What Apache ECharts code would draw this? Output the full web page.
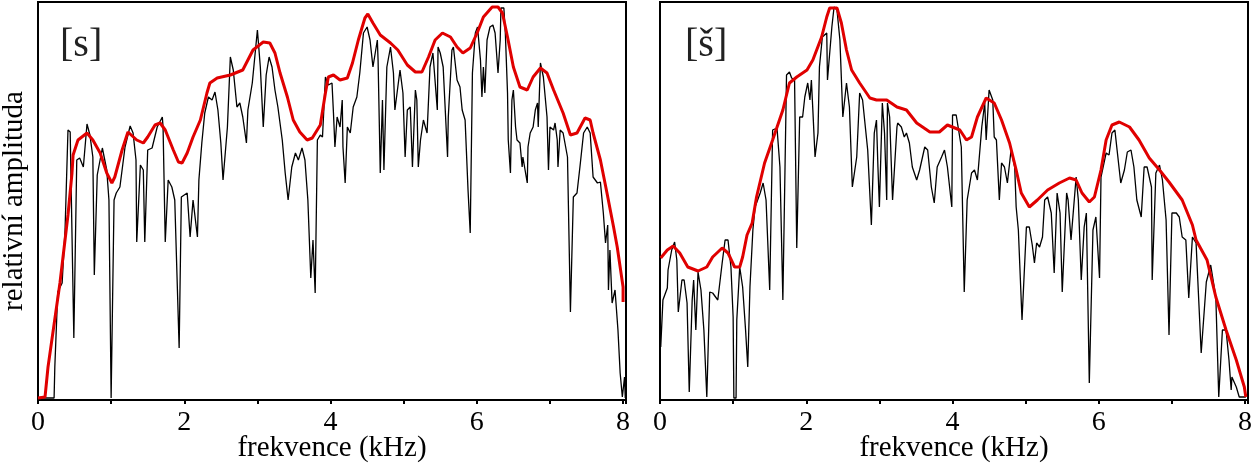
<!DOCTYPE html>
<html><head><meta charset="utf-8">
<script src="https://cdn.jsdelivr.net/npm/echarts@6/dist/echarts.min.js"></script>
<style>html,body{margin:0;padding:0;background:#fff}#c{width:1252px;height:463px}</style>
</head><body><div id="c"></div>
<script>
const xTicks = [0, 2, 4, 6, 8];
const panelLabels = ['[s]', '[š]'];
const xName = 'frekvence (kHz)';
const yName = 'relativní amplituda';

// [frequency kHz, relative amplitude]
const sSpectrum = [
[0,2],[0.22,2],[0.23,33],[0.27,108],[0.33,117],[0.37,170],[0.41,270],[0.44,268],[0.49,62],[0.53,240],[0.57,242],[0.62,233],[0.67,276],[0.71,265],[0.75,243],[0.77,125],[0.81,225],[0.88,252],[0.90,250],[0.94,230],[0.97,200],[1.00,2],[1.04,200],[1.07,207],[1.12,213],[1.19,253],[1.26,274],[1.30,267],[1.34,240],[1.35,158],[1.40,235],[1.44,230],[1.46,158],[1.50,250],[1.56,252],[1.63,273],[1.70,283],[1.71,273],[1.74,158],[1.78,220],[1.83,213],[1.87,200],[1.93,52],[1.96,203],[2.04,207],[2.08,163],[2.12,200],[2.18,163],[2.20,220],[2.24,257],[2.28,287],[2.33,303],[2.38,300],[2.42,308],[2.46,290],[2.50,257],[2.53,220],[2.59,273],[2.63,343],[2.67,330],[2.72,293],[2.76,297],[2.80,283],[2.85,257],[2.87,290],[2.93,317],[3.00,370],[3.04,333],[3.08,273],[3.12,325],[3.16,343],[3.20,333],[3.24,310],[3.28,293],[3.34,260],[3.38,227],[3.42,200],[3.47,233],[3.52,247],[3.56,240],[3.61,252],[3.65,240],[3.69,200],[3.73,122],[3.76,160],[3.79,107],[3.82,260],[3.86,265],[3.89,263],[3.93,323],[3.97,315],[4.02,317],[4.04,287],[4.06,253],[4.09,283],[4.13,273],[4.16,300],[4.17,253],[4.20,217],[4.23,273],[4.27,267],[4.31,293],[4.36,303],[4.40,327],[4.45,367],[4.50,373],[4.54,360],[4.58,333],[4.64,360],[4.65,340],[4.68,227],[4.71,300],[4.73,230],[4.77,333],[4.82,353],[4.86,327],[4.88,290],[4.92,313],[4.95,330],[4.99,307],[5.02,243],[5.05,290],[5.09,293],[5.12,233],[5.16,310],[5.18,300],[5.20,233],[5.23,260],[5.27,280],[5.32,267],[5.36,333],[5.40,347],[5.46,290],[5.47,353],[5.50,347],[5.54,333],[5.60,243],[5.61,283],[5.66,350],[5.68,353],[5.73,320],[5.77,313],[5.80,290],[5.84,280],[5.88,210],[5.91,167],[5.94,327],[5.98,367],[6.01,373],[6.05,340],[6.07,303],[6.09,333],[6.11,307],[6.14,360],[6.18,373],[6.22,375],[6.25,367],[6.29,327],[6.32,360],[6.33,392],[6.37,392],[6.39,367],[6.42,307],[6.43,260],[6.46,227],[6.48,300],[6.50,310],[6.53,273],[6.55,260],[6.59,257],[6.62,233],[6.63,243],[6.69,217],[6.70,253],[6.73,267],[6.77,273],[6.80,290],[6.83,297],[6.84,273],[6.87,337],[6.89,335],[6.91,323],[6.96,283],[6.98,230],[7.00,273],[7.05,270],[7.07,277],[7.10,260],[7.11,233],[7.14,270],[7.18,267],[7.24,243],[7.28,88],[7.32,203],[7.37,207],[7.41,233],[7.46,267],[7.51,273],[7.55,267],[7.59,223],[7.65,217],[7.69,218],[7.73,187],[7.76,157],[7.79,175],[7.80,110],[7.82,150],[7.85,97],[7.89,110],[7.93,70],[7.96,27],[7.99,3],[8.02,23],[8.03,2]
];
const sEnvelope = [
[0,2],[0.096,3],[0.137,33],[0.30,117],[0.41,185],[0.465,227],[0.48,245],[0.547,260],[0.67,267],[0.75,260],[0.85,247],[0.94,227],[1.01,217],[1.05,223],[1.15,250],[1.23,268],[1.35,260],[1.44,257],[1.50,263],[1.60,275],[1.67,277],[1.74,270],[1.85,250],[1.92,238],[1.97,237],[2.04,247],[2.12,263],[2.22,280],[2.31,307],[2.35,317],[2.45,322],[2.63,325],[2.80,330],[2.94,350],[3.08,358],[3.17,357],[3.24,347],[3.31,327],[3.41,303],[3.49,280],[3.58,268],[3.68,260],[3.75,262],[3.86,275],[3.93,307],[3.97,323],[4.04,325],[4.13,320],[4.23,322],[4.30,337],[4.38,360],[4.47,382],[4.51,386],[4.58,377],[4.68,365],[4.82,357],[4.92,350],[5.05,335],[5.16,328],[5.25,328],[5.34,343],[5.43,360],[5.53,367],[5.64,363],[5.73,353],[5.81,347],[5.91,352],[6.01,368],[6.09,383],[6.21,393],[6.29,393],[6.35,387],[6.42,363],[6.50,333],[6.59,313],[6.69,310],[6.77,323],[6.87,332],[6.96,327],[7.05,310],[7.18,287],[7.28,265],[7.37,267],[7.48,282],[7.55,280],[7.59,267],[7.69,240],[7.78,207],[7.87,173],[7.92,153],[8.00,113],[8.00,98]
];
const shSpectrum = [
[0.01,53],[0.04,100],[0.10,112],[0.11,130],[0.16,150],[0.20,158],[0.23,140],[0.25,88],[0.27,88],[0.30,120],[0.33,120],[0.37,97],[0.40,8],[0.44,100],[0.46,120],[0.49,70],[0.52,128],[0.56,110],[0.60,70],[0.64,3],[0.68,108],[0.72,107],[0.79,100],[0.85,137],[0.89,160],[0.93,160],[0.97,133],[1.00,83],[1.01,2],[1.04,2],[1.05,80],[1.09,133],[1.13,113],[1.17,70],[1.20,33],[1.23,113],[1.27,170],[1.30,193],[1.37,207],[1.41,217],[1.45,200],[1.50,110],[1.54,270],[1.60,272],[1.64,233],[1.68,100],[1.73,325],[1.77,328],[1.80,322],[1.84,320],[1.87,152],[1.91,283],[1.95,283],[1.98,303],[2.02,317],[2.05,300],[2.07,320],[2.09,290],[2.12,243],[2.16,267],[2.18,333],[2.22,363],[2.28,367],[2.29,320],[2.35,373],[2.38,393],[2.42,390],[2.46,360],[2.50,283],[2.55,317],[2.57,317],[2.59,293],[2.63,213],[2.69,243],[2.73,307],[2.77,300],[2.84,250],[2.89,175],[2.93,267],[2.96,280],[2.98,233],[3.00,193],[3.04,297],[3.07,267],[3.10,200],[3.11,297],[3.14,283],[3.18,200],[3.24,273],[3.25,277],[3.30,273],[3.34,263],[3.37,267],[3.41,257],[3.45,233],[3.51,220],[3.55,230],[3.62,253],[3.66,250],[3.71,213],[3.75,197],[3.79,233],[3.85,243],[3.89,250],[3.93,233],[3.99,193],[4.00,285],[4.05,285],[4.12,253],[4.16,108],[4.20,200],[4.26,227],[4.30,230],[4.34,220],[4.40,273],[4.44,297],[4.46,260],[4.50,310],[4.55,300],[4.57,263],[4.60,260],[4.64,200],[4.67,237],[4.71,233],[4.75,217],[4.80,250],[4.85,233],[4.87,193],[4.90,170],[4.95,80],[5.01,173],[5.05,173],[5.09,155],[5.12,137],[5.15,157],[5.19,153],[5.23,163],[5.26,200],[5.30,203],[5.35,187],[5.39,127],[5.43,207],[5.47,187],[5.50,108],[5.56,207],[5.58,200],[5.62,160],[5.69,223],[5.72,200],[5.76,120],[5.80,173],[5.83,187],[5.87,17],[5.92,170],[5.96,183],[6.01,122],[6.03,223],[6.10,247],[6.14,245],[6.18,267],[6.22,270],[6.25,250],[6.30,217],[6.35,230],[6.39,248],[6.44,250],[6.48,233],[6.52,200],[6.58,183],[6.62,233],[6.66,233],[6.72,213],[6.73,120],[6.78,227],[6.83,235],[6.87,220],[6.92,180],[6.96,65],[7.00,187],[7.06,187],[7.10,183],[7.14,163],[7.19,160],[7.23,102],[7.28,163],[7.33,157],[7.40,47],[7.47,118],[7.53,135],[7.60,103],[7.64,3],[7.69,70],[7.74,70],[7.78,40],[7.81,10],[7.82,23],[7.88,13],[7.92,3],[8.01,3]
];
const shEnvelope = [
[0.01,142],[0.10,150],[0.18,154],[0.27,147],[0.38,133],[0.52,129],[0.64,133],[0.72,143],[0.85,152],[0.93,147],[1.02,133],[1.09,133],[1.13,143],[1.19,165],[1.26,177],[1.32,203],[1.43,237],[1.54,260],[1.68,290],[1.77,317],[1.87,323],[2.01,330],[2.09,340],[2.21,363],[2.28,383],[2.32,392],[2.42,392],[2.48,377],[2.55,350],[2.62,330],[2.73,317],[2.87,302],[2.96,300],[3.10,300],[3.24,293],[3.37,290],[3.51,277],[3.69,268],[3.82,268],[3.93,275],[4.10,270],[4.19,260],[4.26,263],[4.34,283],[4.46,302],[4.57,297],[4.67,280],[4.78,257],[4.87,230],[4.94,207],[5.05,193],[5.16,200],[5.30,210],[5.46,217],[5.60,222],[5.69,220],[5.77,207],[5.87,198],[5.94,203],[6.03,230],[6.10,260],[6.18,275],[6.28,278],[6.42,273],[6.55,260],[6.69,242],[6.83,230],[6.96,218],[7.14,200],[7.28,175],[7.33,160],[7.48,140],[7.60,103],[7.74,70],[7.88,40],[7.99,13],[8.01,3]
];

const FONT = 'Liberation Serif';
const RED = '#e00000';
const chart = echarts.init(document.getElementById('c'), null, {renderer: 'canvas'});

function xAxis(gi) {
  return {
    type: 'value', gridIndex: gi, min: 0, max: 8.04, interval: 1,
    name: xName, nameLocation: 'middle', nameGap: 34, nameMoveOverlap: false,
    nameTextStyle: {fontFamily: FONT, fontSize: 29, color: '#000'},
    axisLine: {show: true, onZero: false, lineStyle: {color: '#000', width: 2}},
    axisTick: {show: true, inside: false, length: 4, lineStyle: {color: '#000', width: 2}},
    axisLabel: {fontFamily: FONT, fontSize: 28, color: '#000', margin: 9,
      formatter: v => xTicks.includes(v) ? String(v) : ''},
    splitLine: {show: false}
  };
}
function yAxis(gi, named) {
  return {
    type: 'value', gridIndex: gi, min: 0, max: 398,
    name: named ? yName : '', nameLocation: 'middle', nameGap: 9, nameMoveOverlap: false,
    nameTextStyle: {fontFamily: FONT, fontSize: 29, color: '#000'},
    axisLine: {show: true, lineStyle: {color: '#000', width: 2}},
    axisTick: {show: false}, axisLabel: {show: false}, splitLine: {show: false}
  };
}
function line(data, gi, color, width) {
  return {type: 'line', xAxisIndex: gi, yAxisIndex: gi, data: data, showSymbol: false,
    symbol: 'none', lineStyle: {color: color, width: width}, z: color === RED ? 3 : 2};
}

chart.setOption({
  animation: false,
  backgroundColor: '#fff',
  title: [
    {text: panelLabels[0], left: 55, top: 20, textStyle: {fontFamily: FONT, fontSize: 40, fontWeight: 'normal', color: '#222'}},
    {text: panelLabels[1], left: 680, top: 20, textStyle: {fontFamily: FONT, fontSize: 40, fontWeight: 'normal', color: '#222'}}
  ],
  grid: [
    {left: 38, top: 2, width: 588, height: 398, show: true, borderColor: '#000', borderWidth: 2, backgroundColor: '#fff', containLabel: false, outerBoundsMode: 'none'},
    {left: 660, top: 2, width: 588, height: 398, show: true, borderColor: '#000', borderWidth: 2, backgroundColor: '#fff', containLabel: false, outerBoundsMode: 'none'}
  ],
  xAxis: [xAxis(0), xAxis(1)],
  yAxis: [yAxis(0, true), yAxis(1, false)],
  series: [
    line(sSpectrum, 0, '#000', 1.3),
    line(sEnvelope, 0, RED, 3),
    line(shSpectrum, 1, '#000', 1.3),
    line(shEnvelope, 1, RED, 3)
  ]
});
</script></body></html>
